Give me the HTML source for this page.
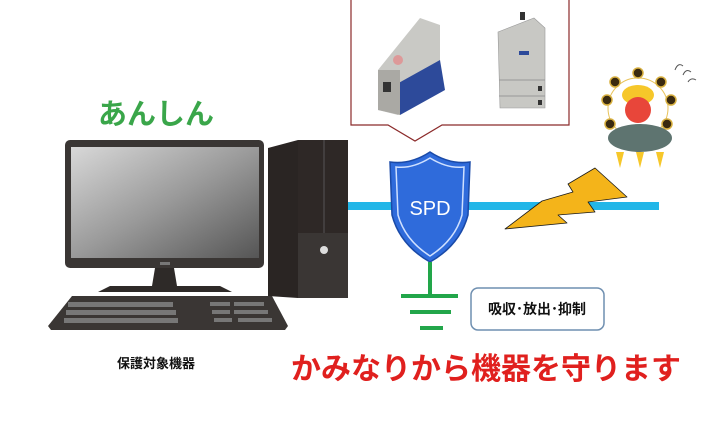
<!DOCTYPE html>
<html><head><meta charset="utf-8"><style>
html,body{margin:0;padding:0;background:#fff;}
svg text{font-family:"Liberation Sans","Noto Sans CJK JP",sans-serif;}
</style></head><body>
<svg width="722" height="416" viewBox="0 0 722 416" xmlns="http://www.w3.org/2000/svg">
<defs>
<linearGradient id="scr" x1="0" y1="0" x2="1" y2="1">
<stop offset="0" stop-color="#d8d8d8"/><stop offset="0.5" stop-color="#9a9a9a"/><stop offset="1" stop-color="#555"/>
</linearGradient>
</defs>
<!-- callout -->
<path d="M351,0 V125 H388 L415,141 L442,125 H569 V0" fill="#fff" stroke="#8b2a2a" stroke-width="1.2"/>
<!-- product 1 -->
<polygon points="378,70 420,18 440,25 440,75 398,115 378,110" fill="#c9c9c5"/>
<polygon points="395,85 440,60 445,90 400,115" fill="#2d4a9a"/>
<polygon points="378,70 400,70 400,115 378,110" fill="#aaa9a4"/>
<rect x="383" y="82" width="8" height="10" fill="#333"/>
<circle cx="398" cy="60" r="5" fill="#d99"/>
<!-- product 2 -->
<polygon points="498,32 534,18 545,28 545,108 500,108" fill="#c8c8c4" stroke="#999" stroke-width="0.6"/>
<rect x="520" y="12" width="5" height="8" fill="#333"/>
<rect x="519" y="51" width="10" height="4" fill="#2d4a9a"/>
<line x1="499" y1="80" x2="545" y2="80" stroke="#999"/>
<line x1="499" y1="96" x2="545" y2="96" stroke="#999"/>
<rect x="538" y="86" width="4" height="5" fill="#333"/><rect x="538" y="100" width="4" height="5" fill="#333"/>
<!-- monitor -->
<rect x="65" y="140" width="199" height="128" rx="5" fill="#3a3634"/>
<rect x="71" y="147" width="188" height="111" fill="url(#scr)"/>
<rect x="160" y="262" width="10" height="3" fill="#777"/>
<polygon points="155,268 174,268 177,286 152,286" fill="#2e2a28"/>
<polygon points="110,286 220,286 232,292 98,292" fill="#2e2a28"/>
<polygon points="72,296 272,296 288,326 285,330 51,330 48,326" fill="#3a3634"/>
<g fill="#777">
<rect x="68" y="302" width="105" height="5"/><rect x="66" y="310" width="110" height="5"/><rect x="64" y="318" width="114" height="5"/>
<rect x="210" y="302" width="20" height="4"/><rect x="234" y="302" width="30" height="4"/>
<rect x="212" y="310" width="18" height="4"/><rect x="234" y="310" width="34" height="4"/>
<rect x="214" y="318" width="18" height="4"/><rect x="238" y="318" width="34" height="4"/>
</g>
<!-- tower -->
<polygon points="268,148 298,140 298,298 268,296" fill="#2a2523"/>
<rect x="298" y="140" width="50" height="93" fill="#2e2826"/>
<line x1="324" y1="140" x2="324" y2="233" stroke="#555" stroke-width="1"/>
<rect x="298" y="233" width="50" height="65" fill="#3a3634"/>
<circle cx="324" cy="250" r="4" fill="#ddd"/>
<!-- line -->
<rect x="348" y="202" width="311" height="8" fill="#22b6e8"/>
<!-- lightning -->
<polygon points="505,229 542,201 573,192 568,184 595,168 627,197 588,202 595,212 558,215 567,223" fill="#f4b41a" stroke="#1a1a1a" stroke-width="0.8" stroke-linejoin="round"/>
<!-- shield -->
<path d="M430,152 Q410,165 390,162 L392,215 Q400,245 430,262 Q460,245 468,215 L470,162 Q450,165 430,152Z" fill="#2f6bdb" stroke="#1a4aa8" stroke-width="1.5"/>
<path d="M430,158 Q412,169 396,167 L398,215 Q405,240 430,256 Q455,240 462,215 L464,167 Q448,169 430,158Z" fill="none" stroke="#cfe0ff" stroke-width="1.5"/>
<text x="430" y="215" font-size="20" fill="#fff" text-anchor="middle">SPD</text>
<!-- ground -->
<rect x="428" y="262" width="4" height="34" fill="#22a64a"/>
<rect x="401" y="294" width="57" height="4" fill="#22a64a"/>
<rect x="410" y="310" width="41" height="4" fill="#22a64a"/>
<rect x="420" y="326" width="23" height="4" fill="#22a64a"/>
<rect x="471" y="288" width="133" height="42" rx="7" fill="#fff" stroke="#6f8fb0" stroke-width="1.5"/>
<text x="537" y="314" font-size="14" font-weight="bold" text-anchor="middle" fill="#111">吸収･放出･抑制</text>
<!-- thunder god -->
<circle cx="638" cy="108" r="30" fill="none" stroke="#e8c35a" stroke-width="1"/>
<g fill="#3a2a10" stroke="#d8b040" stroke-width="1.5">
<circle cx="615" cy="82" r="5"/><circle cx="638" cy="73" r="5"/><circle cx="661" cy="82" r="5"/>
<circle cx="607" cy="100" r="5"/><circle cx="671" cy="100" r="5"/><circle cx="610" cy="124" r="5"/><circle cx="667" cy="124" r="5"/>
</g>
<ellipse cx="638" cy="95" rx="16" ry="10" fill="#f6c72a"/>
<ellipse cx="638" cy="110" rx="13" ry="13" fill="#e8463a"/>
<ellipse cx="640" cy="138" rx="32" ry="14" fill="#5e7470"/>
<g fill="#f6c72a"><polygon points="616,152 624,152 620,168"/><polygon points="636,152 644,152 640,168"/><polygon points="656,152 664,152 660,168"/></g>
<path d="M675,70 q3,-8 8,-4 M683,75 q3,-7 8,-3 M688,82 q3,-5 8,-2" stroke="#555" fill="none" stroke-width="1"/>
<!-- texts -->
<text x="156" y="124" font-size="29" font-weight="bold" fill="#3aa64a" text-anchor="middle">あんしん</text>
<text x="156" y="368" font-size="13" font-weight="bold" fill="#111" text-anchor="middle">保護対象機器</text>
<text x="486" y="379" font-size="30" font-weight="bold" fill="#e0201e" text-anchor="middle">かみなりから機器を守ります</text>
</svg>
</body></html>
